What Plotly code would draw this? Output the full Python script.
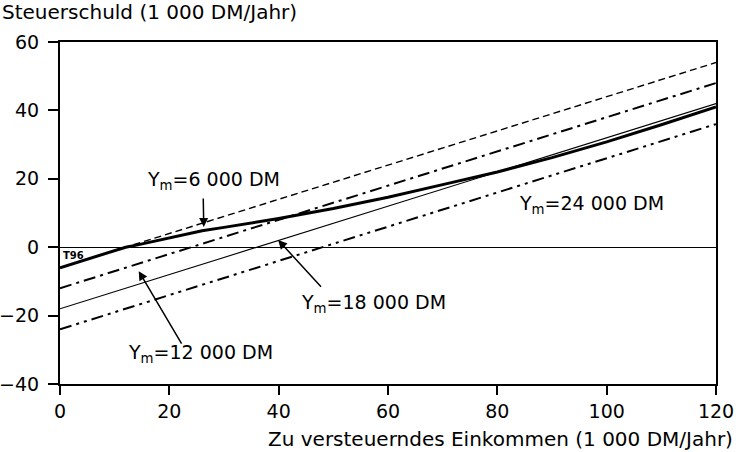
import plotly.graph_objects as go

# Data
x_lines = [0, 120]
ym_6000 = [-6, 54]
ym_12000 = [-12, 48]
ym_18000 = [-18, 42]
ym_24000 = [-24, 36]

t96_x = [0, 12, 14, 20, 26, 30, 35, 40, 50, 56, 60, 70, 80, 90, 100, 110, 120]
t96_y = [-6, 0, 0.6, 2.8, 4.8, 5.8, 7.0, 8.4, 11.3, 13.2, 14.6, 18.3, 22.0, 26.2, 30.8, 35.8, 41.0]

x_ticks = [0, 20, 40, 60, 80, 100, 120]
y_ticks = [-40, -20, 0, 20, 40, 60]

FONT = "'DejaVu Sans', Arial, sans-serif"

fig = go.Figure()
fig.add_trace(go.Scatter(x=x_lines, y=ym_6000, mode="lines",
                         line=dict(color="black", width=1.4, dash="7px,4px")))
fig.add_trace(go.Scatter(x=x_lines, y=ym_12000, mode="lines",
                         line=dict(color="black", width=2, dash="12px,5px,3px,5px")))
fig.add_trace(go.Scatter(x=x_lines, y=ym_18000, mode="lines",
                         line=dict(color="black", width=1.1)))
fig.add_trace(go.Scatter(x=x_lines, y=ym_24000, mode="lines",
                         line=dict(color="black", width=2, dash="12px,5px,3px,5px,3px,5px")))
fig.add_trace(go.Scatter(x=t96_x, y=t96_y, mode="lines",
                         line=dict(color="black", width=3)))

ann = []
# texts
ann.append(dict(x=28.0, y=19.5, text="Y<sub>m</sub>=6 000 DM", showarrow=False))
ann.append(dict(x=97.2, y=12.6, text="Y<sub>m</sub>=24 000 DM", showarrow=False))
ann.append(dict(x=57.3, y=-16.4, text="Y<sub>m</sub>=18 000 DM", showarrow=False))
ann.append(dict(x=25.7, y=-31.2, text="Y<sub>m</sub>=12 000 DM", showarrow=False))
# arrows
arrow_style = dict(text="", showarrow=True, arrowhead=2, arrowsize=1.2, arrowwidth=1.5,
                   arrowcolor="black", axref="x", ayref="y", standoff=0, startstandoff=0)
ann.append(dict(x=26.3, y=5.9, ax=26.2, ay=14.7, **arrow_style))
ann.append(dict(x=39.9, y=2.1, ax=48.0, ay=-12.0, **arrow_style))
ann.append(dict(x=14.4, y=-7.0, ax=22.4, ay=-28.6, **arrow_style))
# T96 label
ann.append(dict(x=0, y=0, text="<b>T96</b>", showarrow=False, xanchor="left", yanchor="top",
                xshift=1, yshift=-1, font=dict(size=10, family=FONT, color="black")))
# axis titles
ann.append(dict(xref="paper", yref="paper", x=0, y=1, xanchor="left", yanchor="middle",
                xshift=-60, yshift=30, text="Steuerschuld (1 000 DM/Jahr)", showarrow=False,
                font=dict(size=20)))
ann.append(dict(xref="paper", yref="paper", x=1, y=0, xanchor="right", yanchor="middle",
                xshift=19, yshift=-55, text="Zu versteuerndes Einkommen (1 000 DM/Jahr)",
                showarrow=False, font=dict(size=20)))

fig.update_layout(
    width=738, height=452,
    margin=dict(l=60, r=22, t=42, b=68),
    paper_bgcolor="white", plot_bgcolor="white",
    showlegend=False,
    font=dict(family=FONT, size=19, color="black"),
    annotations=ann,
)
fig.update_xaxes(range=[0, 120], tickvals=x_ticks, ticks="outside", ticklen=9, tickwidth=1.5,
                 tickcolor="black", showline=True, linecolor="black", linewidth=2, mirror=True,
                 showgrid=False, zeroline=False, tickfont=dict(size=19), automargin=False,
                 ticklabeloverflow="allow")
fig.update_yaxes(range=[-40, 60], tickvals=y_ticks, ticks="outside", ticklen=10, tickwidth=1.5,
                 tickcolor="black", showline=True, linecolor="black", linewidth=2, mirror=True,
                 showgrid=False, zeroline=True, zerolinecolor="black", zerolinewidth=1.4,
                 tickfont=dict(size=19), tickformat="d", automargin=False,
                 ticklabelstandoff=5)

fig.write_html("out.html", config={"displayModeBar": False},
               post_script="document.body.style.margin='0';document.body.style.overflow='hidden';")
